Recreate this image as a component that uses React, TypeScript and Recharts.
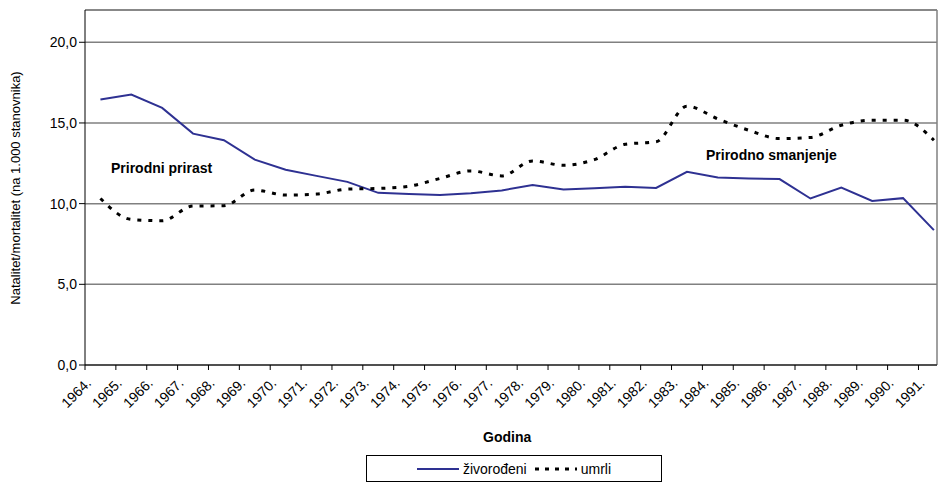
import React from "react";
import { LineChart, Line, XAxis, YAxis, CartesianGrid, ReferenceLine } from "recharts";

const years = [1964, 1965, 1966, 1967, 1968, 1969, 1970, 1971, 1972, 1973, 1974, 1975, 1976, 1977, 1978, 1979, 1980, 1981, 1982, 1983, 1984, 1985, 1986, 1987, 1988, 1989, 1990, 1991];
const zivorodeni = [16.45, 16.76, 15.93, 14.34, 13.93, 12.73, 12.1, 11.72, 11.35, 10.67, 10.6, 10.53, 10.65, 10.82, 11.15, 10.88, 10.96, 11.04, 10.97, 11.97, 11.62, 11.56, 11.52, 10.32, 11.0, 10.17, 10.34, 8.36];
const umrli = [10.32, 9.02, 8.94, 9.85, 9.87, 10.84, 10.53, 10.59, 10.9, 10.94, 11.08, 11.56, 12.03, 11.72, 12.65, 12.38, 12.73, 13.68, 13.83, 16.04, 15.25, 14.55, 14.03, 14.1, 14.86, 15.17, 15.17, 13.93];
const yTicks = [0, 5, 10, 15, 20];

const data = years.map((y, i) => ({ x: y + 0.5, zivorodeni: zivorodeni[i], umrli: umrli[i] }));

const font = "'Liberation Sans', Arial, sans-serif";

const XTick = (props: any) => {
  const { x, y, payload } = props;
  return (
    <text x={x + 7} y={y + 12} transform={`rotate(-45 ${x + 7} ${y + 12})`} textAnchor="end" fontSize={14} fill="#000" fontFamily={font}>
      {payload.value}.
    </text>
  );
};

export default function App() {
  return (
    <div style={{ position: "absolute", left: 0, top: 0, width: 942, height: 486, background: "#fff", fontFamily: font }}>
      <LineChart width={942} height={486} data={data} margin={{ top: 10, right: 5, left: 40, bottom: 61 }}>
        <CartesianGrid vertical={false} stroke="#808080" strokeWidth={1.5} />
        <XAxis
          dataKey="x"
          type="number"
          domain={[1964, 1991.6]}
          ticks={years}
          interval={0}
          tick={<XTick />}
          tickSize={5}
          stroke="#000"
          height={60}
          allowDataOverflow
        />
        <YAxis
          domain={[0, 22]}
          ticks={yTicks}
          tickFormatter={(v: number) => v.toFixed(1).replace(".", ",")}
          tick={{ fontSize: 14, fill: "#000", fontFamily: font }}
          stroke="#000"
          width={45}
          allowDataOverflow
        />
        <ReferenceLine y={22} stroke="#808080" strokeWidth={1.5} />
        <ReferenceLine x={1991.6} stroke="#808080" strokeWidth={1.5} />
        <Line type="linear" dataKey="zivorodeni" stroke="#2E3192" strokeWidth={2} dot={false} isAnimationActive={false} />
        <Line type="monotone" dataKey="umrli" stroke="#000" strokeWidth={3} strokeDasharray="4 7" dot={false} isAnimationActive={false} />
      </LineChart>
      <div style={{ position: "absolute", left: 0, top: 188, width: 30, height: 0 }}>
        <div style={{ position: "absolute", left: 15, top: 0, transform: "translate(-50%, -50%) rotate(-90deg)", whiteSpace: "nowrap", fontSize: 13 }}>
          Natalitet/mortalitet (na 1.000 stanovnika)
        </div>
      </div>
      <div style={{ position: "absolute", left: 483, top: 429, fontSize: 14, fontWeight: "bold" }}>Godina</div>
      <div style={{ position: "absolute", left: 111, top: 160, fontSize: 14, fontWeight: "bold" }}>Prirodni prirast</div>
      <div style={{ position: "absolute", left: 706, top: 147, fontSize: 14, fontWeight: "bold" }}>Prirodno smanjenje</div>
      <div style={{ position: "absolute", left: 366, top: 455, width: 294, height: 25, border: "1px solid #000", display: "flex", alignItems: "center", justifyContent: "center", gap: 4, fontSize: 14 }}>
        <svg width={42} height={10}><line x1={0} y1={5} x2={42} y2={5} stroke="#2E3192" strokeWidth={2} /></svg>
        <span>živorođeni</span>
        <svg width={42} height={10} style={{ marginLeft: 4 }}><line x1={0} y1={5} x2={42} y2={5} stroke="#000" strokeWidth={3} strokeDasharray="4 6" /></svg>
        <span>umrli</span>
      </div>
    </div>
  );
}
